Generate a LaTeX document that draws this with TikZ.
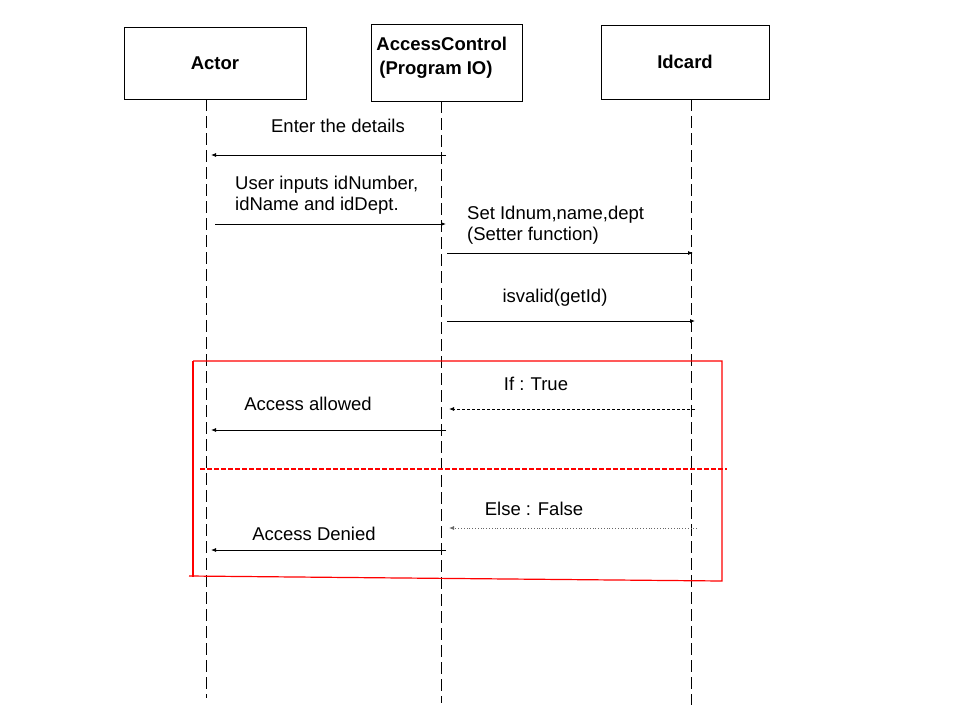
\documentclass[tikz,border=0pt]{standalone}
\usepackage{fontspec}
\setmainfont{Liberation Sans}
\usetikzlibrary{arrows.meta}

\begin{document}
\begin{tikzpicture}[x=1pt,y=-1pt,
    obj/.style={draw,line width=0.8pt,align=center,font=\fontsize{18.5}{24}\selectfont\bfseries},
    life/.style={line width=0.9pt,dash pattern=on 12pt off 5pt},
    msg/.style={line width=0.8pt,-{Latex[length=5pt,width=4pt]}},
    lbl/.style={inner sep=0pt,align=left,font=\fontsize{18.5}{21}\selectfont},
    frame/.style={color=red,line width=1.2pt}]
  \useasboundingbox (0,0) rectangle (960,720);

  % objects
  \node[obj,minimum width=182pt,minimum height=72pt] (actor) at (215,63) {Actor};
  \node[obj,minimum width=151pt,minimum height=77pt] (ctrl) at (446.5,62.5) {};
  \node[obj,draw=none,inner sep=0pt,align=left,anchor=north west] (ctrlText) at (376,37) {AccessControl\\\,(Program IO)};
  \node[obj,minimum width=168pt,minimum height=74pt] (card) at (685,62) {Idcard};

  % lifelines
  \coordinate (actorTop) at (206,99);
  \coordinate (actorEnd) at (206,698);
  \coordinate (ctrlTop) at (441,101);
  \coordinate (ctrlEnd) at (441,703);
  \coordinate (cardTop) at (691,99);
  \coordinate (cardEnd) at (691,705);
  \draw[life] (actorTop) -- (actorEnd);
  \draw[life] (ctrlTop) -- (ctrlEnd);
  \draw[life] (cardTop) -- (cardEnd);

  % messages
  \coordinate (m1a) at (446,155);
  \coordinate (m1b) at (211,155);
  \node[lbl] (t1) at (338,126) {Enter the details};
  \draw[msg] (m1a) -- (m1b);

  \coordinate (m2a) at (215,224);
  \coordinate (m2b) at (446,224);
  \node[lbl,anchor=west] (t2) at (235,195) {User inputs idNumber,\\idName and idDept.};
  \draw[msg] (m2a) -- (m2b);

  \coordinate (m3a) at (447,253);
  \coordinate (m3b) at (693,253);
  \node[lbl,anchor=west] (t3) at (467,225) {Set Idnum,name,dept\\(Setter function)};
  \draw[msg] (m3a) -- (m3b);

  \coordinate (m4a) at (447,321);
  \coordinate (m4b) at (695,321);
  \node[lbl] (t4) at (555,298) {isvalid(getId)};
  \draw[msg] (m4a) -- (m4b);

  % alternative frame
  \draw[frame] (193,361) -- (722,361) -- (722,581) -- (189,576);
  \draw[frame] (193,361) -- (193,577);
  \draw[frame,dash pattern=on 5pt off 2pt] (200,469) -- (727,469);

  \coordinate (m5a) at (695,409);
  \coordinate (m5b) at (449,409);
  \node[lbl] (t5) at (536,384) {If :\,\,True};
  \draw[msg,dash pattern=on 3pt off 2pt] (m5a) -- (m5b);

  \coordinate (m6a) at (446,430);
  \coordinate (m6b) at (211,430);
  \node[lbl] (t6) at (308,404) {Access allowed};
  \draw[msg] (m6a) -- (m6b);

  \coordinate (m7a) at (697,528);
  \coordinate (m7b) at (449,528);
  \node[lbl] (t7) at (534,509) {Else : False};
  \draw[msg,draw=black!60,dotted] (m7a) -- (m7b);

  \coordinate (m8a) at (446,550);
  \coordinate (m8b) at (211,550);
  \node[lbl] (t8) at (314,534) {Access Denied};
  \draw[msg] (m8a) -- (m8b);
\end{tikzpicture}
\end{document}
